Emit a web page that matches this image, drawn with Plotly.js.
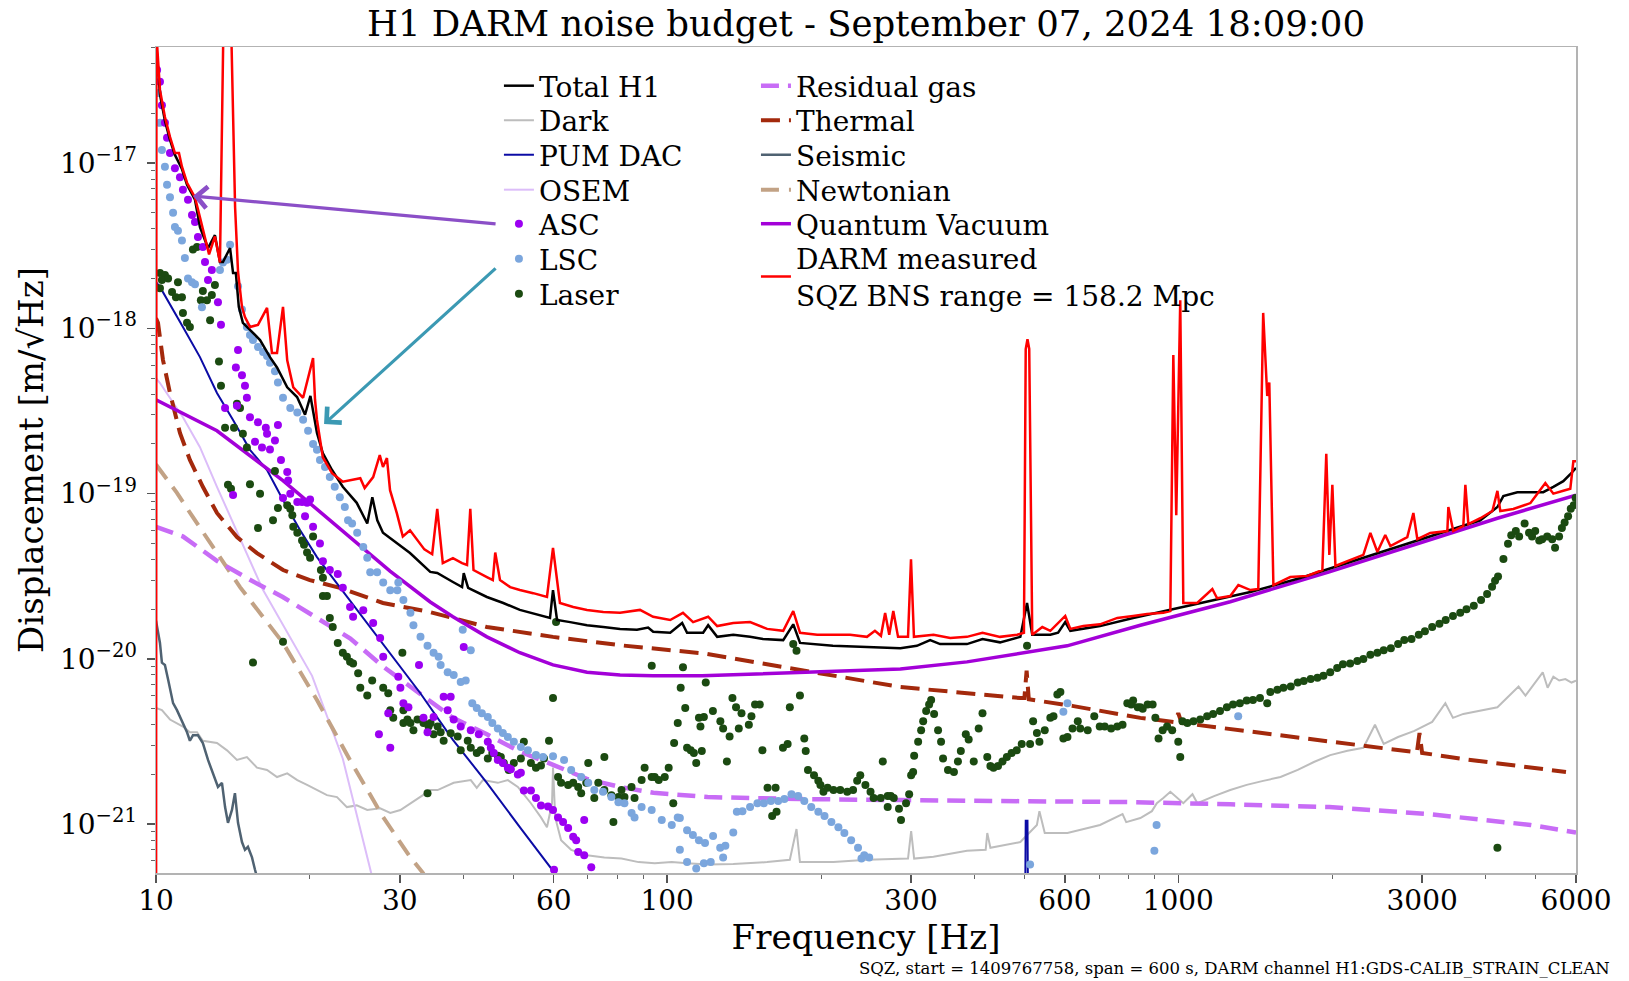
<!DOCTYPE html>
<html><head><meta charset="utf-8">
<script src="https://cdn.plot.ly/plotly-3.0.1.min.js"></script>
<style>html,body{margin:0;padding:0;background:#fff;}</style>
</head><body>
<div id="chart" style="width:1629px;height:981px;"></div>
<script>
// ---- data: [frequency (Hz), displacement (m/sqrt(Hz))] ----
const darmMeasured = [[10.0,1e-23],[10.02,6e-17],[10.18,2.77e-17],[10.41,1.9e-17],[10.65,1.44e-17],[10.89,1.15e-17],[11.09,1.15e-17],[11.24,9.5e-18],[11.5,7.6e-18],[11.92,6.2e-18],[12.19,4.7e-18],[12.47,3.6e-18],[12.7,2.8e-18],[13.04,3.6e-18],[13.34,2.5e-18],[13.6,1.5e-16],[13.95,1.5e-16],[14.28,5.4e-18],[14.47,2.2e-18],[14.73,1.35e-18],[14.93,1.17e-18],[15.27,1.02e-18],[15.83,1.05e-18],[16.49,1.33e-18],[16.86,7.1e-19],[17.25,7.1e-19],[17.72,1.35e-18],[18.06,6.4e-19],[18.56,4.4e-19],[19.4,3.8e-19],[20.29,6.6e-19],[20.47,3.7e-19],[20.65,2.8e-19],[21.2,1.66e-19],[22.1,1.33e-19],[23.2,1.18e-19],[25.1,1.24e-19],[25.6,1.08e-19],[26.6,1.26e-19],[27.4,1.71e-19],[27.8,1.45e-19],[28.3,1.64e-19],[28.7,1.05e-19],[29.6,7.6e-20],[30.4,5.5e-20],[31.4,6.0e-20],[32.4,5.25e-20],[33.5,4.6e-20],[34.7,4.3e-20],[35.5,8.1e-20],[36.4,3.8e-20],[38.1,4.07e-20],[39.7,3.8e-20],[40.6,3.7e-20],[41.2,8.1e-20],[41.8,3.45e-20],[44.4,3.13e-20],[45.6,3.0e-20],[46.1,4.4e-20],[47.1,3.0e-20],[49.3,2.72e-20],[51.5,2.61e-20],[54.7,2.5e-20],[58.2,2.37e-20],[59.8,4.7e-20],[61.7,2.18e-20],[65.5,2.06e-20],[69.7,1.98e-20],[75.0,1.92e-20],[80.9,1.9e-20],[88.5,1.98e-20],[93.9,1.8e-20],[101.4,1.72e-20],[107.4,1.9e-20],[112.4,1.67e-20],[120.3,1.8e-20],[125.3,1.58e-20],[134.7,1.65e-20],[145.3,1.67e-20],[156.9,1.52e-20],[168.7,1.48e-20],[176.5,1.95e-20],[182,1.44e-20],[196.6,1.4e-20],[211,1.4e-20],[228,1.4e-20],[246,1.36e-20],[255,1.48e-20],[262,1.38e-20],[267,1.9e-20],[272,1.4e-20],[277,1.95e-20],[283,1.36e-20],[296,1.36e-20],[300,4.0e-20],[304,1.36e-20],[332,1.4e-20],[358,1.34e-20],[386,1.36e-20],[414,1.44e-20],[448,1.36e-20],[484,1.4e-20],[499,1.44e-20],[503,7.5e-19],[507,8.6e-19],[511,7.5e-19],[518,1.4e-20],[542,1.56e-20],[562,1.48e-20],[601,1.82e-20],[615,1.52e-20],[652,1.58e-20],[703,1.62e-20],[760,1.77e-20],[816,1.82e-20],[869,1.87e-20],[935,1.9e-20],[965,1.95e-20],[978,6.9e-19],[991,7.4e-20],[1009,1.48e-18],[1023,2.18e-20],[1089,2.18e-20],[1166,2.65e-20],[1191,2.33e-20],[1264,2.4e-20],[1311,2.8e-20],[1384,2.61e-20],[1434,2.65e-20],[1466,1.24e-18],[1493,3.9e-19],[1507,4.7e-19],[1535,2.8e-20],[1656,3.13e-20],[1788,3.18e-20],[1914,3.45e-20],[1948,1.74e-19],[1975,4.26e-20],[2002,1.13e-19],[2030,3.65e-20],[2142,3.91e-20],[2302,4.26e-20],[2376,5.78e-20],[2452,4.44e-20],[2541,5.62e-20],[2600,4.82e-20],[2806,5.46e-20],[2884,7.63e-20],[2936,5.3e-20],[3112,5.78e-20],[3361,5.94e-20],[3376,8.3e-20],[3451,5.94e-20],[3612,6.37e-20],[3645,1.13e-19],[3694,6.55e-20],[3899,7.1e-20],[4117,7.85e-20],[4211,1.04e-19],[4266,7.85e-20],[4524,8.07e-20],[4887,8.77e-20],[5226,1.16e-19],[5418,1.0e-19],[5667,1.04e-19],[5848,1.07e-19],[5929,1.57e-19],[6000,1.57e-19]];

const totalH1 = [[10.02,5.0e-17],[10.18,2.6e-17],[10.41,1.8e-17],[10.65,1.38e-17],[10.89,1.12e-17],[11.24,9.2e-18],[11.5,7.4e-18],[11.92,6.0e-18],[12.19,4.1e-18],[12.64,3.06e-18],[13.04,3.66e-18],[13.34,2.52e-18],[13.52,2.52e-18],[13.96,3.06e-18],[14.15,2.16e-18],[14.33,2.16e-18],[14.52,1.35e-18],[14.79,1.08e-18],[15.27,9.8e-19],[15.98,8.5e-19],[16.71,6.7e-19],[17.25,5.8e-19],[18.06,4.4e-19],[18.88,3.84e-19],[19.57,3.0e-19],[20.05,3.9e-19],[20.65,2.33e-19],[21.2,1.76e-19],[22.1,1.39e-19],[23.2,1.1e-19],[24.7,8.8e-20],[25.9,6.6e-20],[26.5,9.5e-20],[27.1,6.9e-20],[27.8,5.8e-20],[29.6,5.0e-20],[31.4,4.37e-20],[34.4,3.36e-20],[35.5,3.31e-20],[38.1,2.92e-20],[39.7,2.72e-20],[40.0,3.3e-20],[40.8,2.69e-20],[44.4,2.37e-20],[47.8,2.18e-20],[51.5,1.98e-20],[55.7,1.85e-20],[59.0,1.77e-20],[59.8,2.61e-20],[60.9,1.72e-20],[64.6,1.67e-20],[69.7,1.6e-20],[75.0,1.56e-20],[80.9,1.52e-20],[87.3,1.5e-20],[91.8,1.55e-20],[93.9,1.46e-20],[101.4,1.44e-20],[107,1.65e-20],[109.4,1.44e-20],[117.6,1.44e-20],[120.3,1.6e-20],[125.3,1.36e-20],[134.7,1.4e-20],[145.3,1.36e-20],[154,1.32e-20],[168.7,1.3e-20],[176.5,1.62e-20],[182,1.25e-20],[211,1.2e-20],[246,1.18e-20],[286,1.16e-20],[308,1.2e-20],[327,1.3e-20],[342,1.23e-20],[386,1.23e-20],[414,1.32e-20],[448,1.26e-20],[491,1.36e-20],[506,2.18e-20],[518,1.4e-20],[562,1.4e-20],[582,1.44e-20],[601,1.67e-20],[615,1.48e-20],[703,1.58e-20],[816,1.77e-20],[965,1.98e-20],[1104,2.18e-20],[1384,2.54e-20],[1733,3.09e-20],[2171,3.86e-20],[2718,4.82e-20],[3405,6.03e-20],[3899,6.9e-20],[4211,8.3e-20],[4325,9.66e-20],[4607,1.02e-19],[4887,1.02e-19],[5176,1.02e-19],[5418,1.1e-19],[5667,1.19e-19],[5848,1.31e-19],[6000,1.43e-19]];

const quantumVacuum = [[10,3.7e-19],[13.16,2.4e-19],[17.72,1.2e-19],[23.97,5.5e-20],[28.7,3.4e-20],[34.4,2.21e-20],[38.1,1.8e-20],[44.4,1.36e-20],[51.5,1.09e-20],[59.8,9.2e-21],[69.7,8.3e-21],[80.9,8.0e-21],[93.9,7.9e-21],[117,7.9e-21],[182,8.3e-21],[286,8.7e-21],[386,9.6e-21],[502,1.09e-20],[606,1.2e-20],[843,1.6e-20],[1264,2.22e-20],[1975,3.36e-20],[3112,5.3e-20],[4211,7.1e-20],[6000,9.8e-20]];

const thermal = [[10.0,1.15e-18],[10.09,1.08e-18],[10.32,6.43e-19],[10.65,4.06e-19],[11.14,2.33e-19],[11.65,1.6e-19],[12.35,1.1e-19],[13.16,7.64e-20],[14.4,5.46e-20],[15.76,4.37e-20],[17.72,3.45e-20],[20.0,3.0e-20],[22.9,2.69e-20],[27.8,2.18e-20],[34.4,1.92e-20],[44.4,1.56e-20],[59.8,1.36e-20],[80.9,1.21e-20],[118,1.08e-20],[182,8.6e-21],[286,6.76e-21],[491,5.8e-21],[500,5.8e-21],[505,8.5e-21],[510,5.7e-21],[620,5.2e-21],[843,4.4e-21],[985,4.15e-21],[1000,4.7e-21],[1015,4.1e-21],[1264,3.77e-21],[1975,3.14e-21],[2930,2.72e-21],[2965,3.56e-21],[3000,2.7e-21],[3612,2.48e-21],[5735,2.07e-21]];

const residualGas = [[10,6.3e-20],[11.3,5.5e-20],[13.2,3.9e-20],[15.3,3.0e-20],[17.7,2.37e-20],[20.5,1.78e-20],[24,1.33e-20],[27.8,9.0e-21],[32.9,6.2e-21],[38.1,4.4e-21],[44.4,3.5e-21],[51.5,2.75e-21],[60,2.28e-21],[70,1.87e-21],[81,1.68e-21],[94,1.55e-21],[120,1.46e-21],[182,1.42e-21],[286,1.4e-21],[520,1.38e-21],[816,1.36e-21],[1264,1.32e-21],[1975,1.27e-21],[3112,1.15e-21],[4211,1.03e-21],[4887,9.9e-22],[6000,8.9e-22]];

const newtonian = [[10.0,1.5e-19],[10.18,1.39e-19],[10.99,1.01e-19],[11.81,7.2e-20],[12.76,5.02e-20],[13.77,3.6e-20],[14.6,2.72e-20],[17.72,1.25e-20],[20.65,5.64e-21],[23.97,2.44e-21],[27.8,1.11e-21],[31.4,6.34e-22],[33.3,5.07e-22],[36,3e-22]];

const osem = [[10.0,5.0e-19],[10.18,4.67e-19],[11.29,2.9e-19],[12.19,1.91e-19],[13.16,1.1e-19],[14.15,6.64e-20],[15.27,3.96e-20],[16.2,2.61e-20],[20.2,7.9e-21],[23.2,2.49e-21],[26.35,5.1e-22],[28,2.5e-22]];

const pumDac = [[10.0,1.9e-18],[10.18,1.78e-18],[11.29,1.02e-18],[12.19,6.7e-19],[13.16,4.06e-19],[14.15,2.79e-19],[15.27,1.84e-19],[16.49,1.39e-19],[17.72,9.14e-20],[19.13,6.03e-20],[20.65,4.13e-20],[22.9,2.72e-20],[25.9,1.65e-20],[30.0,9.0e-21],[32.9,6.2e-21],[38.1,3.24e-21],[44.4,1.78e-21],[51.5,9.6e-22],[59.6,5.3e-22],[61,4.6e-22],[70,2.2e-22],[498,1e-23],[503,1.05e-21],[507,1.05e-21],[512,1e-23]];

const seismic = [[10.0,1.7e-20],[10.05,1.56e-20],[10.18,1.25e-20],[10.27,9.5e-21],[10.41,9.2e-21],[10.56,7.5e-21],[10.8,5.4e-21],[10.99,4.9e-21],[11.24,4.2e-21],[11.5,3.6e-21],[11.65,3.2e-21],[11.81,3.45e-21],[12.08,3.45e-21],[12.35,3.1e-21],[12.64,2.45e-21],[12.93,2.0e-21],[13.22,1.68e-21],[13.46,1.78e-21],[13.65,1.27e-21],[13.83,1.02e-21],[14.08,1.22e-21],[14.27,1.54e-21],[14.47,1.02e-21],[14.73,7.8e-22],[14.93,7.0e-22],[15.13,7.3e-22],[15.41,6.3e-22],[15.62,5.3e-22],[15.76,4.8e-22],[16.1,3e-22]];

const dark = [[10.0,5.05e-21],[10.27,4.9e-21],[10.65,4.3e-21],[11.29,3.9e-21],[11.65,3.6e-21],[12.03,3.6e-21],[12.35,3.2e-21],[13.16,3.1e-21],[13.77,2.8e-21],[14.4,2.45e-21],[15.06,2.55e-21],[15.76,2.2e-21],[16.49,2.13e-21],[17.25,1.93e-21],[18.06,2.03e-21],[18.9,1.85e-21],[19.75,1.73e-21],[20.65,1.61e-21],[21.6,1.5e-21],[22.6,1.46e-21],[23.63,1.27e-21],[24.7,1.3e-21],[25.9,1.22e-21],[27.45,1.25e-21],[28.73,1.17e-21],[30.07,1.22e-21],[31.46,1.34e-21],[32.92,1.46e-21],[34.45,1.61e-21],[35.56,1.61e-21],[38.23,1.78e-21],[41.29,1.85e-21],[42.42,1.66e-21],[43.6,1.85e-21],[46.64,1.78e-21],[48.79,1.85e-21],[51.04,1.68e-21],[54.14,1.34e-21],[56.65,1.1e-21],[58.2,9.6e-22],[59.54,1.34e-21],[59.81,2.2e-21],[60.4,1.1e-21],[62.02,8.0e-22],[64.9,7.0e-22],[69.7,6.5e-22],[75.37,6.3e-22],[81.41,6.2e-22],[87.93,5.9e-22],[94.55,5.8e-22],[102.1,5.9e-22],[109.4,5.8e-22],[120.3,5.7e-22],[134.7,5.75e-22],[156.9,5.9e-22],[173.8,6.1e-22],[179.1,9.35e-22],[181.9,5.9e-22],[211.6,5.9e-22],[246.3,6.1e-22],[296,6.2e-22],[300.2,9.1e-22],[304.3,6.2e-22],[331.9,6.35e-22],[386,6.9e-22],[420,7.0e-22],[423,8.85e-22],[429,7.2e-22],[491,7.8e-22],[529,9.9e-22],[535,1.2e-21],[548,8.85e-22],[607,8.85e-22],[703,9.9e-22],[778,1.15e-21],[791,1.03e-21],[843,1.09e-21],[888,1.2e-21],[908,1.34e-21],[935,1.44e-21],[965,1.57e-21],[1023,1.34e-21],[1066,1.52e-21],[1090,1.34e-21],[1175,1.48e-21],[1264,1.61e-21],[1361,1.73e-21],[1466,1.83e-21],[1585,1.93e-21],[1713,2.13e-21],[1842,2.38e-21],[1983,2.62e-21],[2143,2.78e-21],[2302,2.9e-21],[2426,4.0e-21],[2523,3.06e-21],[2692,3.37e-21],[2897,3.67e-21],[3139,4.16e-21],[3331,5.4e-21],[3447,4.4e-21],[3612,4.65e-21],[3899,4.85e-21],[4211,5.1e-21],[4632,6.8e-21],[4779,6.0e-21],[5165,8.3e-21],[5280,6.7e-21],[5418,7.8e-21],[5563,7.4e-21],[5720,7.55e-21],[5880,7.2e-21],[6000,7.4e-21]];

const ascDots = [[10.05,3.65e-17],[10.18,3.1e-17],[10.27,2.24e-17],[10.41,1.75e-17],[10.51,1.42e-17],[10.65,1.15e-17],[10.89,9.3e-18],[11.14,8.2e-18],[11.29,6.9e-18],[11.55,6.0e-18],[11.76,4.85e-18],[11.92,4.4e-18],[12.08,3.57e-18],[12.35,3.1e-18],[12.47,2.52e-18],[12.86,2.25e-18],[12.64,1.96e-18],[13.22,1.44e-18],[13.4,1.05e-18],[14.47,7.4e-19],[14.33,5.8e-19],[14.73,5.2e-19],[14.93,4.5e-19],[15.06,3.8e-19],[13.65,3.3e-19],[14.4,3.4e-19],[15.27,2.9e-19],[15.83,2.7e-19],[16.4,2.5e-19],[17.32,2.6e-19],[16.49,2.3e-19],[17.09,2.1e-19],[15.62,2.06e-19],[16.12,1.9e-19],[16.71,1.85e-19],[17.56,1.6e-19],[18.06,1.35e-19],[18.14,1.2e-19],[14.15,9.8e-20],[17.72,9.4e-20],[18.31,1.0e-19],[18.9,8.9e-20],[19.31,8.9e-20],[19.75,8.8e-20],[20.02,9.2e-20],[19.57,7.3e-20],[20.29,6.3e-20],[20.93,5.0e-20],[21.21,3.9e-20],[21.88,3.45e-20],[22.68,3.26e-20],[23.2,2.7e-20],[23.97,2.06e-20],[24.3,1.8e-20],[25.44,1.97e-20],[26.6,1.65e-20],[27.45,1.34e-20],[27.83,1.03e-20],[29.79,7.8e-21],[30.07,6.7e-21],[30.48,5.4e-21],[31.18,5.1e-21],[32.7,9.2e-21],[40.0,1.18e-20],[33.37,4.4e-21],[33.98,3.6e-21],[34.92,4.45e-21],[27.3,3.5e-21],[28.47,4.7e-21],[28.73,2.9e-21],[36.54,5.9e-21],[37.72,5.9e-21],[37.21,4.9e-21],[38.23,4.3e-21],[39.46,3.9e-21],[41.29,3.7e-21],[42.81,3.5e-21],[44.58,3.15e-21],[45.19,2.9e-21],[45.81,2.7e-21],[46.64,2.45e-21],[47.71,2.35e-21],[48.79,2.2e-21],[49.46,2.15e-21],[51.04,2.0e-21],[51.74,2.05e-21],[52.45,1.6e-21],[54.14,1.6e-21],[55.38,1.44e-21],[56.65,1.3e-21],[58.47,1.28e-21],[59.81,1.22e-21],[61.18,1.1e-21],[62.58,1.03e-21],[64.02,9.5e-22],[65.49,8.4e-22],[66.38,8.0e-22],[66.98,6.8e-22],[68.83,6.5e-22],[71.05,5.5e-22],[60.08,5.3e-22],[68.83,1.06e-21]];

const lscDots = [[10.09,2.65e-17],[10.18,1.75e-17],[10.27,1.2e-17],[10.41,9.5e-18],[10.51,7.4e-18],[10.65,6.2e-18],[10.8,5.0e-18],[10.89,4.1e-18],[11.04,3.9e-18],[11.24,3.4e-18],[11.39,2.66e-18],[11.55,2.0e-18],[11.76,1.9e-18],[11.92,1.85e-18],[12.3,1.34e-18],[13.34,2.25e-18],[13.52,2.5e-18],[13.77,2.6e-18],[13.96,3.2e-18],[14.47,1.8e-18],[14.73,1.3e-18],[15.06,1.02e-18],[15.27,9.1e-19],[15.48,8.5e-19],[15.83,7.7e-19],[16.2,7.2e-19],[16.49,6.8e-19],[16.71,6.2e-19],[17.09,5.5e-19],[17.32,4.7e-19],[17.72,3.8e-19],[18.31,3.3e-19],[18.9,3.1e-19],[19.4,2.8e-19],[19.84,2.4e-19],[20.29,2.0e-19],[20.65,1.84e-19],[20.93,1.6e-19],[21.41,1.45e-19],[21.88,1.26e-19],[22.37,1.1e-19],[22.89,9.5e-20],[23.41,8.3e-20],[23.75,6.9e-20],[24.19,6.6e-20],[24.75,5.8e-20],[25.44,4.75e-20],[25.9,4.1e-20],[26.25,3.35e-20],[27.08,3.35e-20],[27.83,2.9e-20],[28.73,2.6e-20],[29.66,2.6e-20],[29.79,2.9e-20],[30.48,2.27e-20],[31.46,1.9e-20],[31.89,1.6e-20],[32.92,1.36e-20],[33.98,1.2e-20],[34.92,1.09e-20],[35.72,1.03e-20],[36.05,9.2e-21],[37.21,8.3e-21],[38.23,8.0e-21],[39.46,7.25e-21],[40.36,7.4e-21],[39.82,1.5e-20],[41.29,1.13e-20],[41.57,5.4e-21],[42.42,5.05e-21],[43.4,4.7e-21],[44.58,4.46e-21],[45.5,4.1e-21],[46.64,3.8e-21],[47.71,3.57e-21],[48.79,3.37e-21],[50.13,3.15e-21],[51.74,2.93e-21],[53.41,2.8e-21],[55.38,2.62e-21],[57.17,2.55e-21],[59.81,2.58e-21],[62.86,2.45e-21],[64.9,2.13e-21],[67.9,1.93e-21],[70.09,1.78e-21],[72.03,1.61e-21],[74.9,1.57e-21],[77.8,1.46e-21],[80.3,1.36e-21],[82.5,1.34e-21],[85.2,1.17e-21],[86.35,1.1e-21],[89.14,1.27e-21],[93.27,1.22e-21],[97.6,1.06e-21],[102.1,9.9e-22],[104.9,1.1e-21],[105.9,1.09e-21],[109.4,9.2e-22],[112.3,8.6e-22],[115.4,8.0e-22],[118.6,7.7e-22],[105.9,7.0e-22],[109.4,5.9e-22],[114,5.4e-22],[118,5.8e-22],[123,8.5e-22],[127,7.2e-22],[130,7.4e-22],[134.7,8.9e-22],[128.7,6.3e-22],[121.7,5.9e-22],[136.9,1.19e-21],[140.4,1.2e-21],[145.3,1.27e-21],[150.2,1.34e-21],[154.6,1.34e-21],[159.6,1.38e-21],[164.9,1.38e-21],[169.6,1.42e-21],[175.1,1.52e-21],[180.4,1.48e-21],[185.5,1.38e-21],[191.4,1.27e-21],[197.6,1.19e-21],[203.2,1.12e-21],[209.6,1.03e-21],[216.3,9.6e-22],[222.2,8.85e-22],[229.1,8.0e-22],[236.3,7.2e-22],[243,6.5e-22],[248.5,6.3e-22],[240,6.2e-22],[607,5.4e-21],[596,4.8e-21],[1310,4.5e-21],[907,9.9e-22],[898,6.9e-22],[513,5.7e-22]];

const laserDots = [[10.18,2.16e-18],[10.41,2.1e-18],[10.27,1.96e-18],[10.56,2.0e-18],[10.18,1.75e-18],[10.75,1.66e-18],[10.94,1.54e-18],[11.24,1.54e-18],[11.04,1.9e-18],[11.29,1.24e-18],[11.5,1.08e-18],[11.65,1.02e-18],[11.81,3.0e-18],[12.03,3.1e-18],[12.24,1.48e-18],[12.35,1.68e-18],[12.58,1.48e-18],[12.86,1.59e-18],[13.04,1.83e-18],[12.76,1.12e-18],[13.28,6.3e-19],[13.4,4.5e-19],[13.65,2.5e-19],[14.21,2.5e-19],[14.4,3.5e-19],[14.6,3.3e-19],[14.79,2.3e-19],[15.06,1.9e-19],[13.83,1.13e-19],[14.02,1.07e-19],[15.27,1.14e-19],[15.98,1.0e-19],[16.94,6.9e-20],[17.32,8.2e-20],[18.06,8.5e-20],[18.31,8.1e-20],[17.09,1.37e-19],[18.48,7.4e-20],[18.56,6.3e-20],[18.9,5.8e-20],[19.31,5.2e-20],[19.48,4.9e-20],[20.29,5.5e-20],[19.75,4.4e-20],[20.02,4.1e-20],[21.02,3.45e-20],[21.21,3.1e-20],[15.83,6.2e-20],[21.21,2.4e-20],[21.6,2.4e-20],[21.88,1.77e-20],[22.17,1.56e-20],[22.68,1.25e-20],[23.2,1.09e-20],[23.63,1.03e-20],[23.97,9.6e-21],[24.3,9.4e-21],[24.86,8.2e-21],[25.1,6.7e-21],[25.9,6.0e-21],[26.48,7.4e-21],[27.83,6.7e-21],[28.47,6.2e-21],[28.73,4.9e-21],[29.12,4.4e-21],[30.48,4.1e-21],[31.04,4.3e-21],[31.46,4.1e-21],[31.89,3.7e-21],[32.48,4.3e-21],[33.37,4.1e-21],[34.14,3.9e-21],[30.48,4.9e-21],[30.34,1.09e-20],[17.72,1.27e-20],[15.48,9.5e-21],[33.98,1.54e-21],[34.45,4.1e-21],[35.56,3.9e-21],[34.92,3.5e-21],[36.54,3.2e-21],[36.05,3.6e-21],[37.72,3.55e-21],[38.93,3.4e-21],[39.46,2.8e-21],[40.73,3.2e-21],[41.29,2.9e-21],[42.42,2.7e-21],[43.19,2.8e-21],[44.58,2.5e-21],[45.5,2.7e-21],[46.64,2.6e-21],[47.28,2.55e-21],[47.92,2.35e-21],[48.98,2.13e-21],[50.13,2.35e-21],[51.74,2.5e-21],[52.45,3.15e-21],[54.14,2.35e-21],[55.38,2.2e-21],[56.65,2.27e-21],[57.42,2.5e-21],[58.73,3.2e-21],[59.81,5.8e-21],[60.63,1.67e-20],[61.18,1.93e-21],[62.02,1.78e-21],[64.02,1.73e-21],[65.49,1.78e-21],[66.98,1.68e-21],[67.9,1.54e-21],[69.46,1.78e-21],[70.09,2.35e-21],[72.03,1.44e-21],[73.34,1.78e-21],[75.37,2.55e-21],[75.37,1.61e-21],[77.8,1.5e-21],[78.5,1.03e-21],[80.3,1.46e-21],[81.41,1.61e-21],[82.52,1.46e-21],[85.18,1.68e-21],[86.35,1.44e-21],[89.14,1.85e-21],[90.36,2.2e-21],[93.27,1.93e-21],[94.55,1.93e-21],[96.27,1.85e-21],[98.93,1.93e-21],[100.7,2.2e-21],[102.8,1.34e-21],[103.2,3.1e-21],[104.9,4.1e-21],[107.4,8.9e-21],[106.3,6.7e-21],[108.5,5.05e-21],[109.4,2.9e-21],[111.2,2.8e-21],[112.8,2.7e-21],[114,2.35e-21],[116.2,3.9e-21],[118,4.46e-21],[119,7.2e-21],[115.4,4.4e-21],[116.9,2.77e-21],[122.9,4.85e-21],[127.1,4.2e-21],[128.7,3.8e-21],[130.9,2.4e-21],[132.5,3.4e-21],[134.2,5.8e-21],[136.4,5.1e-21],[138.1,3.8e-21],[139.8,4.7e-21],[144.5,4.0e-21],[146.2,4.5e-21],[148.6,5.3e-21],[151.8,5.3e-21],[153.6,2.8e-21],[157.2,1.66e-21],[163,1.66e-21],[160.5,1.12e-21],[163.7,1.19e-21],[168.5,2.9e-21],[172.1,3.06e-21],[173.8,5.1e-21],[176.5,1.23e-20],[179.1,1.12e-20],[181.9,6.0e-21],[185.5,3.3e-21],[186.7,2.77e-21],[188.6,2.13e-21],[193.8,1.98e-21],[197.6,1.83e-21],[199.5,1.73e-21],[202.2,1.57e-21],[206,1.66e-21],[211.6,1.61e-21],[218.1,1.61e-21],[225.1,1.57e-21],[231.1,1.61e-21],[235.4,1.83e-21],[238.7,1.98e-21],[244.3,1.73e-21],[250,1.57e-21],[253.5,1.44e-21],[261.7,1.44e-21],[264.2,2.4e-21],[270.1,1.48e-21],[273.9,1.48e-21],[277.6,1.44e-21],[270.1,1.27e-21],[284.2,1.24e-21],[286.8,1.06e-21],[293.4,1.34e-21],[297.5,1.52e-21],[300.2,1.98e-21],[302.9,2.07e-21],[304.3,2.6e-21],[309.8,3.15e-21],[314,3.7e-21],[316.9,4.2e-21],[321.2,4.85e-21],[325.5,5.3e-21],[328.5,5.65e-21],[332.9,4.65e-21],[338.9,3.7e-21],[343.5,3.15e-21],[346.6,2.5e-21],[354.4,2.13e-21],[364,2.07e-21],[370.6,2.4e-21],[375.5,2.77e-21],[384,3.5e-21],[389,3.25e-21],[398,2.4e-21],[407,3.8e-21],[414,4.7e-21],[423,2.55e-21],[429,2.25e-21],[435,2.2e-21],[444,2.25e-21],[453,2.4e-21],[462,2.55e-21],[472,2.7e-21],[483,2.8e-21],[494,3.06e-21],[506,1.2e-20],[513,3.06e-21],[520,4.2e-21],[529,3.57e-21],[535,3.15e-21],[548,3.7e-21],[562,4.4e-21],[570,4.5e-21],[580,6.1e-21],[588,6.3e-21],[596,3.3e-21],[607,3.37e-21],[621,3.8e-21],[636,4.2e-21],[643,3.8e-21],[665,3.7e-21],[685,4.5e-21],[702,3.9e-21],[718,3.9e-21],[739,3.8e-21],[760,3.9e-21],[778,4.0e-21],[795,5.4e-21],[816,5.6e-21],[843,5.1e-21],[809,5.3e-21],[833,5.1e-21],[852,5.0e-21],[871,5.3e-21],[891,5.3e-21],[902,4.4e-21],[915,3.3e-21],[932,3.7e-21],[951,3.9e-21],[973,3.7e-21],[1000,3.15e-21],[1009,2.55e-21],[1019,4.2e-21],[1042,4.1e-21],[1071,4.2e-21],[1104,4.3e-21],[1139,4.5e-21],[1170,4.65e-21],[1207,4.85e-21],[1245,5.1e-21],[1280,5.3e-21],[1320,5.4e-21],[1361,5.6e-21],[1400,5.65e-21],[1445,5.8e-21],[1493,5.4e-21],[1514,6.3e-21],[1563,6.5e-21],[1606,6.7e-21],[1660,6.8e-21],[1713,7.2e-21],[1760,7.35e-21],[1816,7.55e-21],[1872,7.7e-21],[1923,7.9e-21],[1983,8.3e-21],[2046,8.8e-21],[2100,9.3e-21],[2169,9.4e-21],[2240,9.7e-21],[2302,1.0e-20],[2376,1.06e-20],[2452,1.09e-20],[2523,1.13e-20],[2606,1.16e-20],[2692,1.23e-20],[2768,1.3e-20],[2860,1.32e-20],[2955,1.4e-20],[3038,1.47e-20],[3139,1.56e-20],[3243,1.63e-20],[3336,1.72e-20],[3447,1.82e-20],[3562,1.9e-20],[3664,2.0e-20],[3786,2.1e-20],[3912,2.27e-20],[4020,2.47e-20],[4111,2.73e-20],[4167,2.97e-20],[4223,3.15e-20],[4327,4.03e-20],[4417,4.97e-20],[4482,5.6e-20],[4575,5.95e-20],[4644,5.5e-20],[4760,6.6e-20],[4856,5.8e-20],[4923,5.5e-20],[4993,5.95e-20],[5084,5.2e-20],[5152,5.3e-20],[5270,5.5e-20],[5390,5.3e-20],[5460,4.7e-20],[5560,5.5e-20],[5630,6.2e-20],[5700,6.7e-20],[5790,7.3e-20],[5860,8.1e-20],[5940,8.5e-20],[5990,9.4e-20],[4211,7.2e-22],[93.3,9.1e-21]];

// ---- tick labels ----
const xTickVals = [10, 30, 60, 100, 300, 600, 1000, 3000, 6000];
const xTickText = ['10', '30', '60', '100', '300', '600', '1000', '3000', '6000'];
const xMinorVals = [20, 40, 50, 70, 80, 90, 200, 400, 500, 700, 800, 900, 2000, 4000, 5000];
const yTickVals = [1e-21, 1e-20, 1e-19, 1e-18, 1e-17];
const yTickText = ['10<sup>−21</sup>', '10<sup>−20</sup>', '10<sup>−19</sup>', '10<sup>−18</sup>', '10<sup>−17</sup>'];

const titleText = 'H1 DARM noise budget - September 07, 2024 18:09:00';
const footText = 'SQZ, start = 1409767758, span = 600 s, DARM channel H1:GDS-CALIB_STRAIN_CLEAN';

// ---- rendering ----
const FONT = 'DejaVu Serif, Liberation Serif, serif';
const fx = a => a.map(p => p[0]);
const fy = a => a.map(p => p[1]);

function lineTrace(name, data, color, width, dash, legend) {
  return {type: 'scatter', mode: 'lines', name: name, x: fx(data), y: fy(data),
          line: {color: color, width: width, dash: dash || 'solid'}, legend: legend, hoverinfo: 'skip'};
}
function dotTrace(name, data, color, legend) {
  return {type: 'scatter', mode: 'markers', name: name, x: fx(data), y: fy(data),
          marker: {color: color, size: 8, line: {width: 0}}, legend: legend, hoverinfo: 'skip'};
}

const traces = [
  lineTrace('Dark', dark, '#bdbdbd', 2, 'solid', 'legend2'),
  lineTrace('Seismic', seismic, '#4f6272', 2.5, 'solid', 'legend10'),
  lineTrace('OSEM', osem, '#dcbdf9', 2, 'solid', 'legend4'),
  lineTrace('Newtonian', newtonian, '#c2a285', 4, '18px,10px', 'legend11'),
  lineTrace('Thermal', thermal, '#a3290c', 4, '19px,9px', 'legend9'),
  lineTrace('Residual gas', residualGas, '#c86cf6', 4.5, '18px,9px', 'legend8'),
  lineTrace('PUM DAC', pumDac, '#0b0ba5', 2, 'solid', 'legend3'),
  lineTrace('Quantum Vacuum', quantumVacuum, '#a300d8', 3.5, 'solid', 'legend12'),
  dotTrace('Laser', laserDots, '#1b4a11', 'legend7'),
  dotTrace('LSC', lscDots, '#7ba6dd', 'legend6'),
  dotTrace('ASC', ascDots, '#9c00f2', 'legend5'),
  lineTrace('Total H1', totalH1, '#000000', 2.5, 'solid', 'legend'),
  lineTrace('DARM measured<br>SQZ BNS range = 158.2 Mpc', darmMeasured, '#ff0000', 2.5, 'solid', 'legend13')
];

// legend slots: column x (paper) and row centre y (paper)
const col1 = 0.2415, col2 = 0.4225;
const rowY = [0.9528, 0.911, 0.8692, 0.8269, 0.7857, 0.7433, 0.701];
function leg(x, y) {
  return {x: x, y: y, xanchor: 'left', yanchor: 'middle', bgcolor: 'rgba(0,0,0,0)', borderwidth: 0,
          font: {family: FONT, size: 28, color: '#000'}, itemwidth: 30, valign: 'middle'};
}

const yMinor = [];
for (let k = -22; k <= -17; k++) for (let m = 2; m <= 9; m++) yMinor.push(m * Math.pow(10, k));

const layout = {
  width: 1629, height: 981,
  margin: {l: 156, r: 53, t: 47, b: 108, pad: 0},
  paper_bgcolor: '#ffffff', plot_bgcolor: '#ffffff',
  font: {family: FONT, color: '#000'},
  title: {text: titleText, font: {family: FONT, size: 35.5, color: '#000'},
          x: 0.5, xref: 'paper', xanchor: 'center', y: 0.976, yref: 'container', yanchor: 'middle'},
  xaxis: {type: 'log', range: [1, Math.log10(6000)], tickmode: 'array', tickvals: xTickVals, ticktext: xTickText,
          ticks: 'outside', ticklen: 8, tickwidth: 1.5, tickcolor: '#555', tickfont: {family: FONT, size: 28, color: '#000'},
          ticklabelstandoff: -6,
          showline: true, linecolor: '#b3b3b3', linewidth: 1.5, mirror: true, showgrid: false, zeroline: false,
          minor: {tickvals: xMinorVals, ticks: 'outside', ticklen: 4, tickwidth: 1, tickcolor: '#666', showgrid: false},
          title: {text: 'Frequency [Hz]', font: {family: FONT, size: 34, color: '#000'}, standoff: 3}},
  yaxis: {type: 'log', range: [-21.295, -16.298], tickmode: 'array', tickvals: yTickVals, ticktext: yTickText,
          ticks: 'outside', ticklen: 8, tickwidth: 1.5, tickcolor: '#555', tickfont: {family: FONT, size: 28, color: '#000'},
          ticklabelstandoff: 4,
          showline: true, linecolor: '#b3b3b3', linewidth: 1.5, mirror: true, showgrid: false, zeroline: false,
          minor: {tickvals: yMinor, ticks: 'outside', ticklen: 4, tickwidth: 1, tickcolor: '#666', showgrid: false},
          title: {text: 'Displacement [m/√Hz]', font: {family: FONT, size: 34, color: '#000'}, standoff: 6}},
  legend: leg(col1, rowY[0]),
  legend2: leg(col1, rowY[1]),
  legend3: leg(col1, rowY[2]),
  legend4: leg(col1, rowY[3]),
  legend5: leg(col1, rowY[4]),
  legend6: leg(col1, rowY[5]),
  legend7: leg(col1, rowY[6]),
  legend8: leg(col2, rowY[0]),
  legend9: leg(col2, rowY[1]),
  legend10: leg(col2, rowY[2]),
  legend11: leg(col2, rowY[3]),
  legend12: leg(col2, rowY[4]),
  legend13: leg(col2, (rowY[5] + rowY[6]) / 2),
  annotations: [
    {xref: 'x', yref: 'y', axref: 'x', ayref: 'y', x: 1.0724, y: -17.2, ax: 1.6673, ay: -17.369,
     text: '', showarrow: true, arrowhead: 4, arrowsize: 1.3, arrowwidth: 3.2, arrowcolor: '#8b4fc7', standoff: 0},
    {xref: 'x', yref: 'y', axref: 'x', ayref: 'y', x: 1.3288, y: -18.579, ax: 1.6673, ay: -17.629,
     text: '', showarrow: true, arrowhead: 4, arrowsize: 1.3, arrowwidth: 3.2, arrowcolor: '#3b99b3', standoff: 0},
    {xref: 'paper', yref: 'paper', x: 1.0254, y: -0.116, xanchor: 'right', yanchor: 'middle', showarrow: false,
     text: footText, font: {family: FONT, size: 16.5, color: '#000'}}
  ],
  showlegend: true
};

Plotly.newPlot('chart', traces, layout, {displayModeBar: false, staticPlot: true});
</script>
</body></html>
